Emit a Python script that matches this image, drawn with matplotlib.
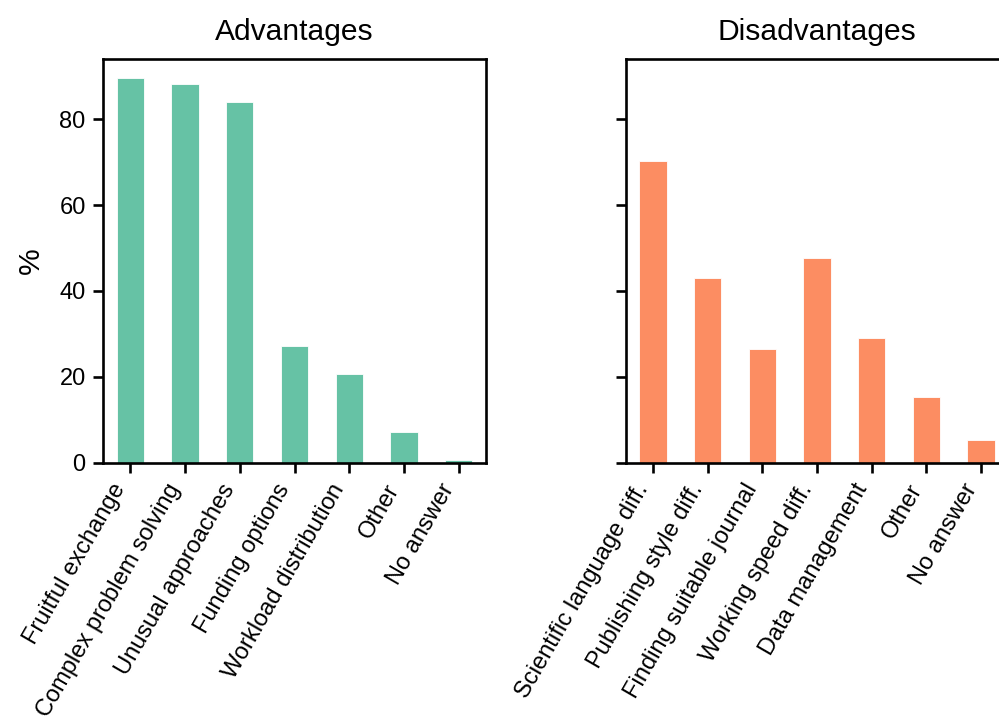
import matplotlib
matplotlib.use("Agg")
import matplotlib.pyplot as plt
import numpy as np

plt.rcParams['font.family'] = ['Liberation Sans', 'DejaVu Sans']

adv_labels = ["Fruitful exchange", "Complex problem solving", "Unusual approaches",
              "Funding options", "Workload distribution", "Other", "No answer"]
adv_values = [89.5, 88.2, 84.1, 27.2, 20.6, 7.2, 0.6]

dis_labels = ["Scientific language diff.", "Publishing style diff.", "Finding suitable journal",
              "Working speed diff.", "Data management", "Other", "No answer"]
dis_values = [70.2, 43.1, 26.5, 47.7, 29.1, 15.2, 5.3]

titles = ["Advantages", "Disadvantages"]
colors = ["#66c2a5", "#fc8d62"]

W, H = 999, 719
fig = plt.figure(figsize=(W / 100, H / 100), dpi=100)
ax_h = (462.7 - 59) / H
ax_b = (H - 462.7) / H
ax_w = 383 / W
ax1 = fig.add_axes([103 / W, ax_b, ax_w, ax_h])
ax2 = fig.add_axes([625.5 / W, ax_b, ax_w, ax_h], sharey=ax1)

for ax, labels, vals, title, col in [(ax1, adv_labels, adv_values, titles[0], colors[0]),
                                     (ax2, dis_labels, dis_values, titles[1], colors[1])]:
    x = np.arange(len(labels))
    ax.bar(x, vals, width=0.5, color=col, edgecolor='white', linewidth=0.6)
    ax.set_xlim(-0.5, len(labels) - 0.5)
    ax.set_xticks(x)
    ax.set_xticklabels(labels, rotation=60, ha='right', fontsize=17)
    ax.set_title(title, fontsize=21.6, pad=14)
    for s in ax.spines.values():
        s.set_linewidth(1.9)
    ax.tick_params(axis='both', length=7.5, width=1.9, labelsize=17, pad=5)

ax1.set_ylim(0, 94)
ax1.set_yticks([0, 20, 40, 60, 80])
ax1.set_ylabel("%", fontsize=21.6, labelpad=10)
plt.setp(ax2.get_yticklabels(), visible=False)

fig.savefig("out.png", dpi=100)
